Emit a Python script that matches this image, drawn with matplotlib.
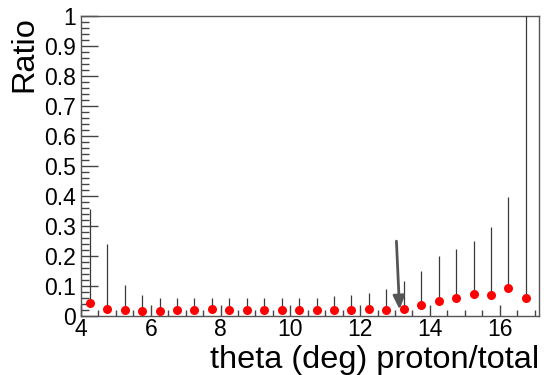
import numpy as np
import matplotlib
matplotlib.use("Agg")
import matplotlib.pyplot as plt
from matplotlib.ticker import MultipleLocator, FixedLocator

plt.rcParams['font.family'] = ['Liberation Sans', 'DejaVu Sans']

# theta bin centres (deg), ratio and upper end of the error bar
theta = [4.25, 4.75, 5.25, 5.75, 6.25, 6.75, 7.25, 7.75, 8.25, 8.75, 9.25,
         9.75, 10.25, 10.75, 11.25, 11.75, 12.25, 12.75, 13.25, 13.75, 14.25,
         14.75, 15.25, 15.75, 16.25, 16.75]
ratio = [0.044, 0.023, 0.020, 0.018, 0.018, 0.020, 0.022, 0.024, 0.022, 0.020,
         0.022, 0.020, 0.020, 0.020, 0.022, 0.022, 0.024, 0.022, 0.023, 0.036,
         0.052, 0.062, 0.073, 0.071, 0.094, 0.062]
upper = [0.357, 0.240, 0.103, 0.069, 0.059, 0.059, 0.059, 0.059, 0.059, 0.059,
         0.059, 0.059, 0.060, 0.062, 0.066, 0.069, 0.076, 0.090, 0.117, 0.150,
         0.199, 0.224, 0.249, 0.296, 0.396, 1.05]

yticks = [0, 0.1, 0.2, 0.3, 0.4, 0.5, 0.6, 0.7, 0.8, 0.9, 1]
ylabels = ['0', '0.1', '0.2', '0.3', '0.4', '0.5', '0.6', '0.7', '0.8', '0.9', '1']

theta = np.array(theta)
ratio = np.array(ratio)
upper = np.array(upper)

fig = plt.figure(figsize=(5.44, 3.75), dpi=100)
ax = fig.add_axes([0.149, 0.157, 0.842, 0.8])

err = [np.zeros_like(ratio), upper - ratio]
ax.errorbar(theta, ratio, yerr=err, fmt='o', color='red', markersize=6.5,
            ecolor='#3a3a3a', elinewidth=0.9, capsize=1.5, capthick=0.9,
            markeredgewidth=0, zorder=3)

# cut arrow
ax.annotate('', xy=(13.13, 0.022), xytext=(13.04, 0.25),
            arrowprops=dict(arrowstyle='-|>,head_length=0.8,head_width=0.35',
                            color='#555555', lw=2, shrinkA=0, shrinkB=0))

ax.set_xlim(4, 17.13)
ax.set_ylim(0, 1)
ax.xaxis.set_major_locator(MultipleLocator(2))
ax.xaxis.set_minor_locator(MultipleLocator(0.5))
ax.yaxis.set_major_locator(FixedLocator(yticks))
ax.set_yticklabels(ylabels)
ax.yaxis.set_minor_locator(MultipleLocator(0.02))

ax.tick_params(axis='both', which='both', direction='in', top=False, right=False,
               colors='#444444', labelcolor='black', labelsize=16.5)
ax.tick_params(axis='y', which='major', length=12, width=1, pad=4)
ax.tick_params(axis='y', which='minor', length=6, width=1)
ax.tick_params(axis='x', which='major', length=8, width=1, pad=1)
ax.tick_params(axis='x', which='minor', length=4, width=1)
for s in ax.spines.values():
    s.set_color('#555555')
    s.set_linewidth(1)

ax.set_xlabel('theta (deg) proton/total', fontsize=23.4, loc='right', labelpad=3)
ax.set_ylabel('Ratio', fontsize=23.4, loc='top', labelpad=3)

fig.savefig('out.png', dpi=100)
